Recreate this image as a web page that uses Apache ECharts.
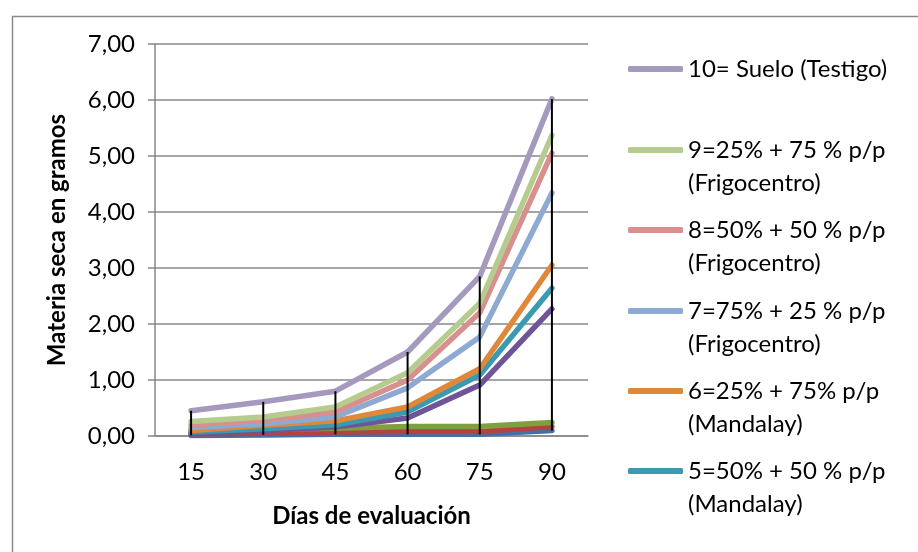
<!DOCTYPE html>
<html>
<head>
<meta charset="utf-8">
<script src="https://cdn.jsdelivr.net/npm/echarts@6/dist/echarts.min.js"></script>
<style>html,body{margin:0;padding:0;background:#fff}#c{width:918px;height:552px}</style>
</head>
<body>
<div id="c"></div>
<script>
var categories = ['15', '30', '45', '60', '75', '90'];
var yTicks = [0, 1, 2, 3, 4, 5, 6, 7];
var seriesNames = [
  '1', '2', '3', '4',
  '5=50% + 50 % p/p\n(Mandalay)',
  '6=25% + 75% p/p\n(Mandalay)',
  '7=75% + 25 % p/p\n(Frigocentro)',
  '8=50% + 50 % p/p\n(Frigocentro)',
  '9=25% + 75 % p/p\n(Frigocentro)',
  '10= Suelo (Testigo)'
];
var s1 = [0.01, 0.02, 0.03, 0.03, 0.03, 0.10];
var s2 = [0.04, 0.05, 0.07, 0.08, 0.08, 0.17];
var s3 = [0.10, 0.12, 0.14, 0.17, 0.17, 0.24];
var s4 = [0.04, 0.10, 0.16, 0.32, 0.91, 2.27];
var s5 = [0.07, 0.13, 0.20, 0.43, 1.09, 2.64];
var s6 = [0.10, 0.19, 0.27, 0.52, 1.20, 3.05];
var s7 = [0.15, 0.22, 0.34, 0.86, 1.77, 4.34];
var s8 = [0.20, 0.28, 0.43, 1.00, 2.20, 5.05];
var s9 = [0.26, 0.34, 0.52, 1.13, 2.37, 5.37];
var s10 = [0.45, 0.61, 0.80, 1.50, 2.85, 6.02];
var allSeries = [s1, s2, s3, s4, s5, s6, s7, s8, s9, s10];
var colors = ['#436FA8', '#B34340', '#7EA03F', '#6F5597', '#3C9AB0', '#E0883A', '#8FAAD2', '#D7908E', '#B5CC8E', '#A599BD'];

var FONT = 'Lato';
var hiLo = categories.map(function (c, i) {
  var vals = allSeries.map(function (s) { return s[i]; });
  return [i, Math.min.apply(null, vals), Math.max.apply(null, vals)];
});

var series = allSeries.map(function (d, k) {
  return {
    name: seriesNames[k], type: 'line', data: d, symbol: 'none', z: 2 + k,
    lineStyle: { color: colors[k], width: 5.5, cap: 'round', join: 'round' },
    itemStyle: { color: colors[k] }, emphasis: { disabled: true }
  };
});
series.push({
  type: 'custom', z: 20, data: hiLo,
  renderItem: function (params, api) {
    var p1 = api.coord([api.value(0), api.value(1)]);
    var p2 = api.coord([api.value(0), api.value(2)]);
    return { type: 'line', shape: { x1: p1[0], y1: p1[1], x2: p2[0], y2: p2[1] }, style: { stroke: '#000', lineWidth: 2 } };
  }
});

// legend: items 10 .. 5, each in its own slot
var legendSlots = [
  { idx: 9, y: 69 }, { idx: 8, y: 150 }, { idx: 7, y: 230 },
  { idx: 6, y: 311 }, { idx: 5, y: 391 }, { idx: 4, y: 471 }
];
var LH = 33;
var legends = legendSlots.map(function (s) {
  var multi = seriesNames[s.idx].indexOf('\n') >= 0;
  return {
    data: [{ name: seriesNames[s.idx], itemStyle: { color: colors[s.idx] } }],
    orient: 'vertical', left: 623,
    top: multi ? s.y - 1.5 * LH - 5 : s.y - 0.5 * LH - 5,
    icon: 'roundRect', itemWidth: 55, itemHeight: 6, selectedMode: false,
    formatter: multi ? function (n) { return '\n' + n; } : '{name}',
    textStyle: { fontFamily: FONT, fontSize: 24, color: '#000', lineHeight: LH }
  };
});

var chart = echarts.init(document.getElementById('c'));
chart.setOption({
  animation: false,
  backgroundColor: '#fff',
  graphic: [{ type: 'rect', left: 10, top: 14, shape: { width: 1000, height: 1000 }, style: { fill: 'none', stroke: '#8a8a8a', lineWidth: 1.5 }, silent: true }],
  legend: legends,
  grid: { left: 155, right: 330, top: 44, bottom: 116 },
  xAxis: {
    type: 'category', data: categories, boundaryGap: true,
    name: 'Días de evaluación', nameLocation: 'middle', nameGap: 68,
    nameTextStyle: { fontFamily: FONT, fontSize: 24, fontWeight: 'bold', color: '#000' },
    axisLine: { lineStyle: { color: '#878787', width: 1.5 } },
    axisTick: { show: false },
    axisLabel: { fontFamily: FONT, fontSize: 24, color: '#000', margin: 24 }
  },
  yAxis: {
    type: 'value', min: yTicks[0], max: yTicks[yTicks.length - 1], interval: 1,
    name: 'Materia seca en gramos', nameLocation: 'middle', nameGap: 86, nameRotate: 90,
    nameTextStyle: { fontFamily: FONT, fontSize: 24, fontWeight: 'bold', color: '#000' },
    axisLine: { show: true, lineStyle: { color: '#878787', width: 1.5 } },
    axisTick: { show: true, inside: false, length: 7, lineStyle: { color: '#878787', width: 1.5 } },
    splitLine: { lineStyle: { color: '#878787', width: 1.5 } },
    axisLabel: { fontFamily: FONT, fontSize: 24, color: '#000', margin: 20,
      formatter: function (v) { return v.toFixed(2).replace('.', ','); } }
  },
  series: series
});
</script>
</body>
</html>
